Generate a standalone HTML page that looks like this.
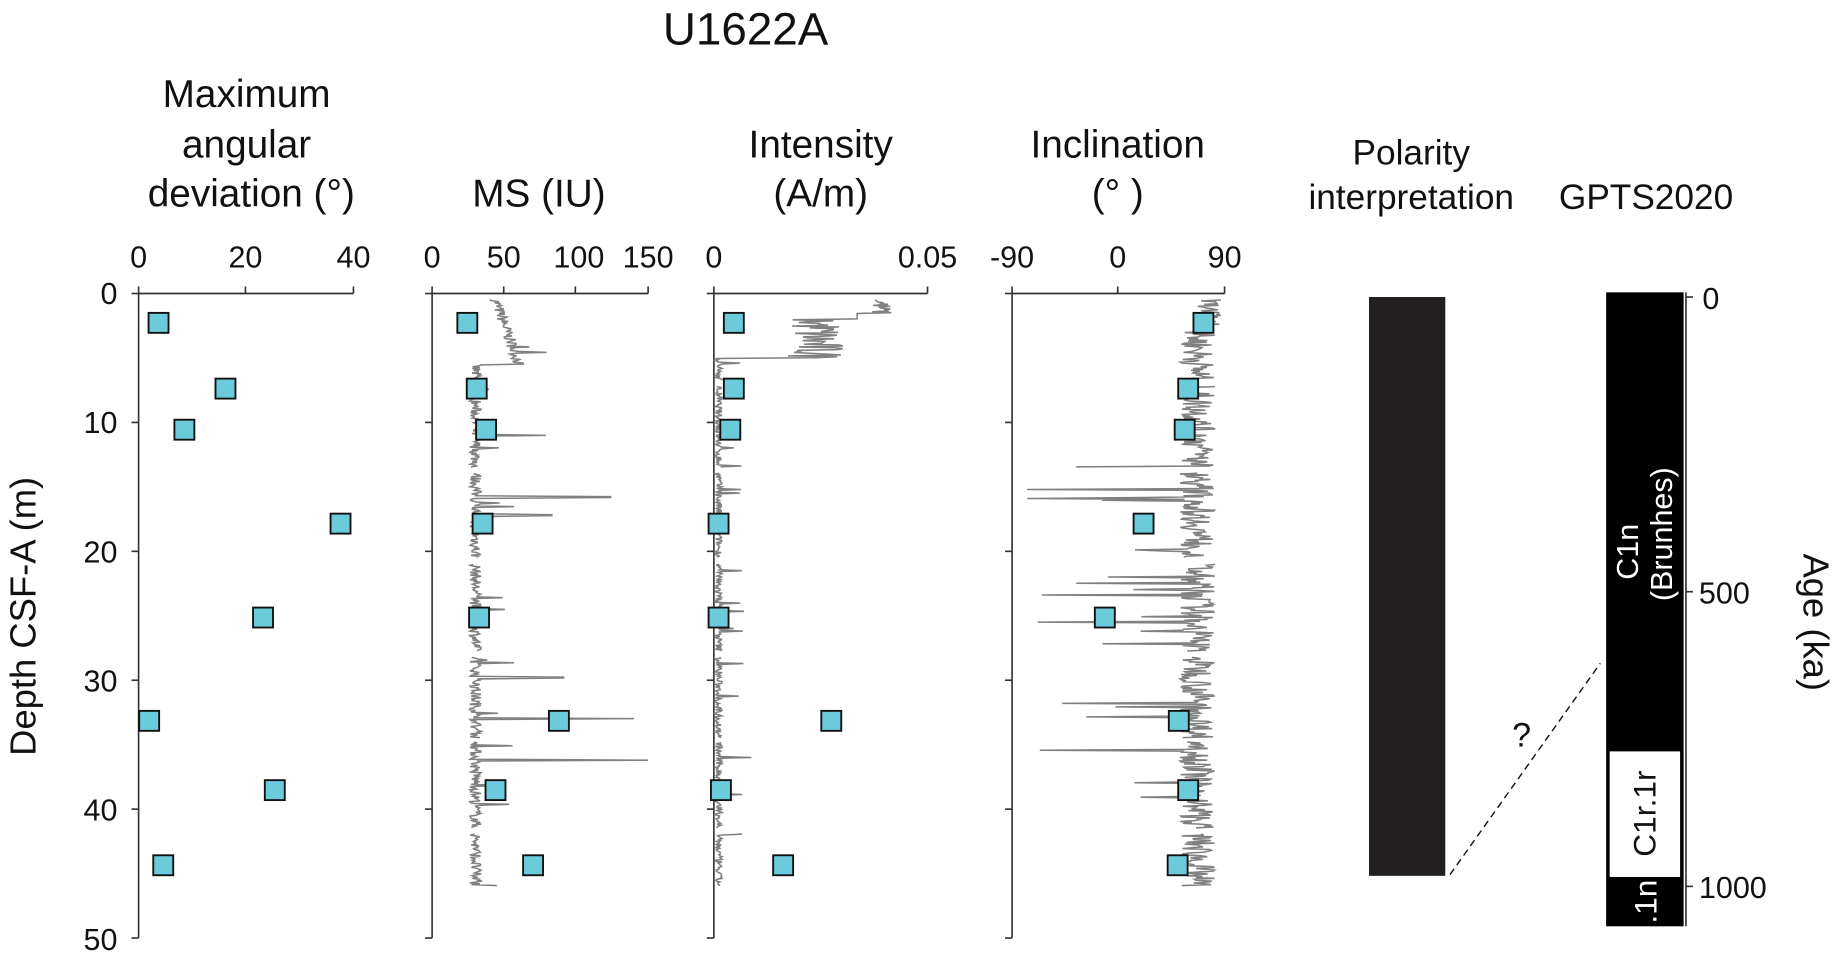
<!DOCTYPE html>
<html><head><meta charset="utf-8"><style>
html,body{margin:0;padding:0;background:#fff;width:1841px;height:962px;overflow:hidden}
svg text{font-family:"Liberation Sans",Arial,sans-serif;fill:#111}
</style></head><body>
<svg id="s" width="1841" height="962" viewBox="0 0 1568 819.4" xmlns="http://www.w3.org/2000/svg">
<text x="635" y="38" font-size="39" text-anchor="middle">U1622A</text>
<g font-size="33" text-anchor="middle">
<text x="210" y="91">Maximum</text><text x="210" y="134">angular</text><text x="214" y="176">deviation (°)</text>
<text x="459" y="176">MS (IU)</text>
<text x="699" y="134">Intensity</text><text x="699" y="176">(A/m)</text>
<text x="952" y="134">Inclination</text><text x="952" y="176">(° )</text>
</g>
<g font-size="30" text-anchor="middle">
<text x="1202" y="140">Polarity</text><text x="1202" y="178">interpretation</text>
<text x="1402" y="178">GPTS2020</text>
</g>
<g font-size="26" text-anchor="middle">
<text x="118" y="228">0</text><text x="209" y="228">20</text><text x="301" y="228">40</text>
<text x="368" y="228">0</text><text x="429" y="228">50</text><text x="493" y="228">100</text><text x="552" y="228">150</text>
<text x="608" y="228">0</text><text x="790" y="228">0.05</text>
<text x="862" y="228">-90</text><text x="952" y="228">0</text><text x="1043" y="228">90</text>
</g>
<g font-size="26" text-anchor="end">
<text x="100" y="259">0</text><text x="100" y="369">10</text><text x="100" y="479">20</text><text x="100" y="589">30</text><text x="100" y="699">40</text><text x="100" y="809">50</text>
</g>
<text transform="translate(30,525) rotate(-90)" font-size="31" text-anchor="middle">Depth CSF-A (m)</text>
<g id="axes" stroke="#333" stroke-width="1.4" fill="none"></g>
<g id="traces" stroke="#808080" stroke-width="1.3" fill="none"></g>
<rect x="1166" y="253" width="65" height="493" fill="#231f20"/>
<rect x="1368" y="249" width="66" height="540" fill="#000"/>
<rect x="1371" y="640" width="60" height="107" fill="#fff"/>
<line x1="1436" y1="249" x2="1436" y2="789" stroke="#333" stroke-width="1.4"/>
<g stroke="#333" stroke-width="1.4"><line x1="1436" y1="253" x2="1442" y2="253"/><line x1="1436" y1="504" x2="1442" y2="504"/><line x1="1436" y1="755" x2="1442" y2="755"/></g>
<g font-size="26"><text x="1450" y="263">0</text><text x="1447" y="514">500</text><text x="1447" y="765">1000</text></g>
<text transform="translate(1395,470) rotate(-90)" font-size="26" text-anchor="middle" style="fill:#fff">C1n</text>
<text transform="translate(1424,455) rotate(-90)" font-size="26" text-anchor="middle" style="fill:#fff">(Brunhes)</text>
<text transform="translate(1410,693) rotate(-90)" font-size="27" text-anchor="middle">C1r.1r</text>
<text transform="translate(1411,768) rotate(-90)" font-size="27" text-anchor="middle" style="fill:#fff">.1n</text>
<text transform="translate(1536,530) rotate(90)" font-size="31" text-anchor="middle">Age (ka)</text>
<line x1="1235" y1="745" x2="1363" y2="565" stroke="#111" stroke-width="1.2" stroke-dasharray="6,4"/>
<text x="1296" y="636" font-size="29" text-anchor="middle">?</text>
<g id="pts" fill="#6ccbdb" stroke="#111" stroke-width="1.6"></g>
</svg>
<script>
var NS="http://www.w3.org/2000/svg";
function el(p,t,a){var e=document.createElementNS(NS,t);for(var k in a)e.setAttribute(k,a[k]);document.getElementById(p).appendChild(e);return e;}
var Y0=250,SC=10.98;
function Y(d){return Y0+d*SC;}
var panels=[[118,301,[118,209,301]],[368,552,[368,429,490,552]],[608,790,[608,790]],[862,1043,[862,952,1043]]];
panels.forEach(function(p){
 el("axes","line",{x1:p[0],y1:Y0,x2:p[1],y2:Y0});
 el("axes","line",{x1:p[0],y1:Y0,x2:p[0],y2:Y(50)});
 p[2].forEach(function(x){el("axes","line",{x1:x,y1:Y0,x2:x,y2:Y0-6});});
 for(var d=0;d<=50;d+=10)el("axes","line",{x1:p[0]-6,y1:Y(d),x2:p[0],y2:Y(d)});
});
var seed=7;function r(){seed=(seed*16807)%2147483647;return seed/2147483647;}
var gaps=[[6.8,7.2],[13.5,13.9],[20.5,21],[27.8,28.2],[34.5,34.8],[41.5,41.9]];
function ingap(d){for(var i=0;i<gaps.length;i++)if(d>gaps[i][0]&&d<gaps[i][1])return true;return false;}
function trace(fx){var pts=[];for(var d=0.5;d<=46;d+=0.07){if(ingap(d)){if(pts.length>1)el("traces","polyline",{points:pts.join(" ")});pts=[];continue;}pts.push(fx(d).toFixed(1)+","+Y(d).toFixed(1));}
 if(pts.length>1)el("traces","polyline",{points:pts.join(" ")});}
var msSp={15.8:520,29.8:480,33:540,36.2:552,11:465,24.5:430,17.2:470};
trace(function(d){for(var k in msSp)if(Math.abs(d-k)<0.04)return msSp[k];var b=d<5.5?420+(d*4):405;return b+(r()-0.5)*10+(r()<0.03?r()*30:0);});
var inSp={12:625,15.5:630,36:640,26:625};
trace(function(d){for(var k in inSp)if(Math.abs(d-k)<0.04)return inSp[k];if(d<1.5)return 740+r()*20;if(d<5)return 610+(d<2?120:60+r()*50);return 612+(r()-0.5)*6+(r()<0.02?20:0);});
trace(function(d){var b=1020+(r()-0.5)*30;if(d>12&&d<40&&r()<0.05)b=870+r()*120;if(d<3)b=1020+r()*20;return b;});
var pts={mad:[[135,275],[192,331],[157,366],[290,446],[224,526],[127,614],[234,673],[139,737]],
ms:[[398,275],[406,331],[414,366],[411,446],[408,526],[476,614],[422,673],[454,737]],
it:[[625,275],[625,331],[622,366],[612,446],[612,526],[708,614],[614,673],[667,737]],
inc:[[1025,275],[1012,331],[1009,366],[974,446],[941,526],[1004,614],[1012,673],[1003,737]]};
for(var k in pts)pts[k].forEach(function(q){el("pts","rect",{x:q[0]-8.5,y:q[1]-8.5,width:17,height:17});});
</script>
</body></html>
